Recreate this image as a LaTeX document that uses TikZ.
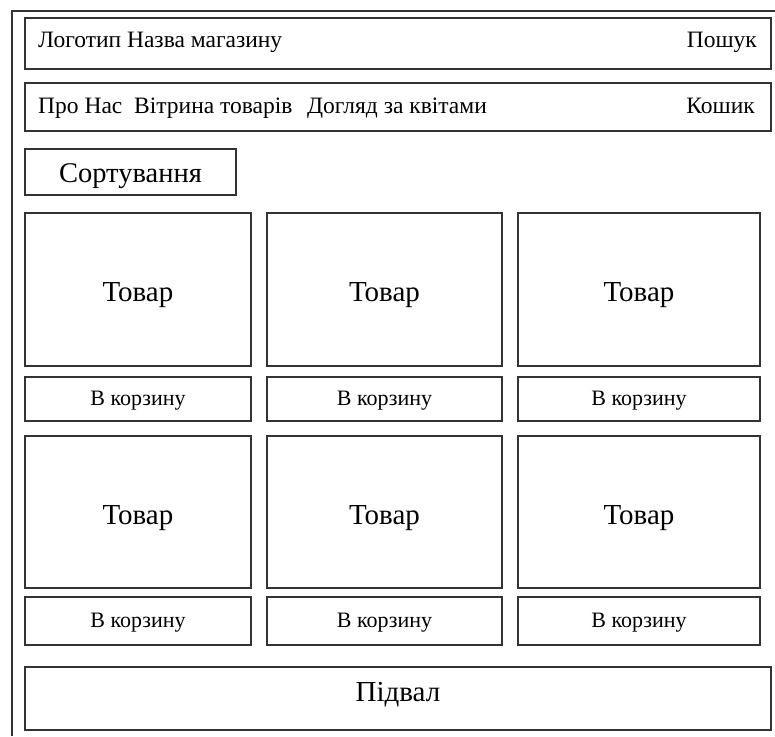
\documentclass[tikz,border=0pt]{standalone}
\usepackage{fontspec}
\setmainfont{Liberation Serif}
\usetikzlibrary{positioning}
\tikzstyle{frame} = [draw=black!80, line width=1.2pt]
\tikzstyle{panel} = [draw=black!80, line width=1.2pt, inner sep=0pt, outer sep=0pt, text centered, text depth=0pt]
\tikzstyle{menu} = [inner sep=0pt, font=\fontsize{23.5}{27}\selectfont]
\tikzstyle{item} = [panel, minimum height=153pt, text height=24pt, font=\fontsize{29}{34}\selectfont]
\tikzstyle{buy} = [panel, minimum height=44pt, text height=12pt, font=\fontsize{22}{26}\selectfont]

\begin{document}
\begin{tikzpicture}[x=1pt, y=-1pt]
				\useasboundingbox (0,0) rectangle (775,736);
				\draw [frame] (12,736) -- (12,11) -- (775,11);

				\node (header)[panel, minimum width=746pt, minimum height=51pt] at (398,43.5) {};
				\node (logo)[menu, anchor=base west] at (38,47) {Логотип Назва магазину};
				\node (search)[menu, anchor=base east] at (757,47) {Пошук};

				\node (nav)[panel, minimum width=746pt, minimum height=48pt] at (398,107) {};
				\node (about)[menu, anchor=base west] at (38,113) {Про Нас};
				\node (catalog)[menu, anchor=base west] at (134,113) {Вітрина товарів};
				\node (care)[menu, anchor=base west] at (307,113) {Догляд за квітами};
				\node (cart)[menu, anchor=base east] at (755,113) {Кошик};

				\node (sort)[panel, minimum width=211pt, minimum height=46pt, text height=20pt, font=\fontsize{28.5}{33}\selectfont] at (130.5,172) {Сортування};

				\node (item1)[item, minimum width=226pt] at (138,289.5) {Товар};
				\node (item2)[item, minimum width=235pt] at (384.5,289.5) {Товар};
				\node (item3)[item, minimum width=242pt] at (639,289.5) {Товар};
				\node (buy1)[buy, minimum width=226pt] at (138,399) {В корзину};
				\node (buy2)[buy, minimum width=235pt] at (384.5,399) {В корзину};
				\node (buy3)[buy, minimum width=242pt] at (639,399) {В корзину};

				\node (item4)[item, minimum width=226pt, minimum height=152pt] at (138,512) {Товар};
				\node (item5)[item, minimum width=235pt, minimum height=152pt] at (384.5,512) {Товар};
				\node (item6)[item, minimum width=242pt, minimum height=152pt] at (639,512) {Товар};
				\node (buy4)[buy, minimum width=226pt, minimum height=48pt] at (138,621) {В корзину};
				\node (buy5)[buy, minimum width=235pt, minimum height=48pt] at (384.5,621) {В корзину};
				\node (buy6)[buy, minimum width=242pt, minimum height=48pt] at (639,621) {В корзину};

				\node (footer)[panel, minimum width=746pt, minimum height=63pt, text height=5pt, font=\fontsize{29}{34}\selectfont] at (398,698.5) {Підвал};
			\end{tikzpicture}
\end{document}
